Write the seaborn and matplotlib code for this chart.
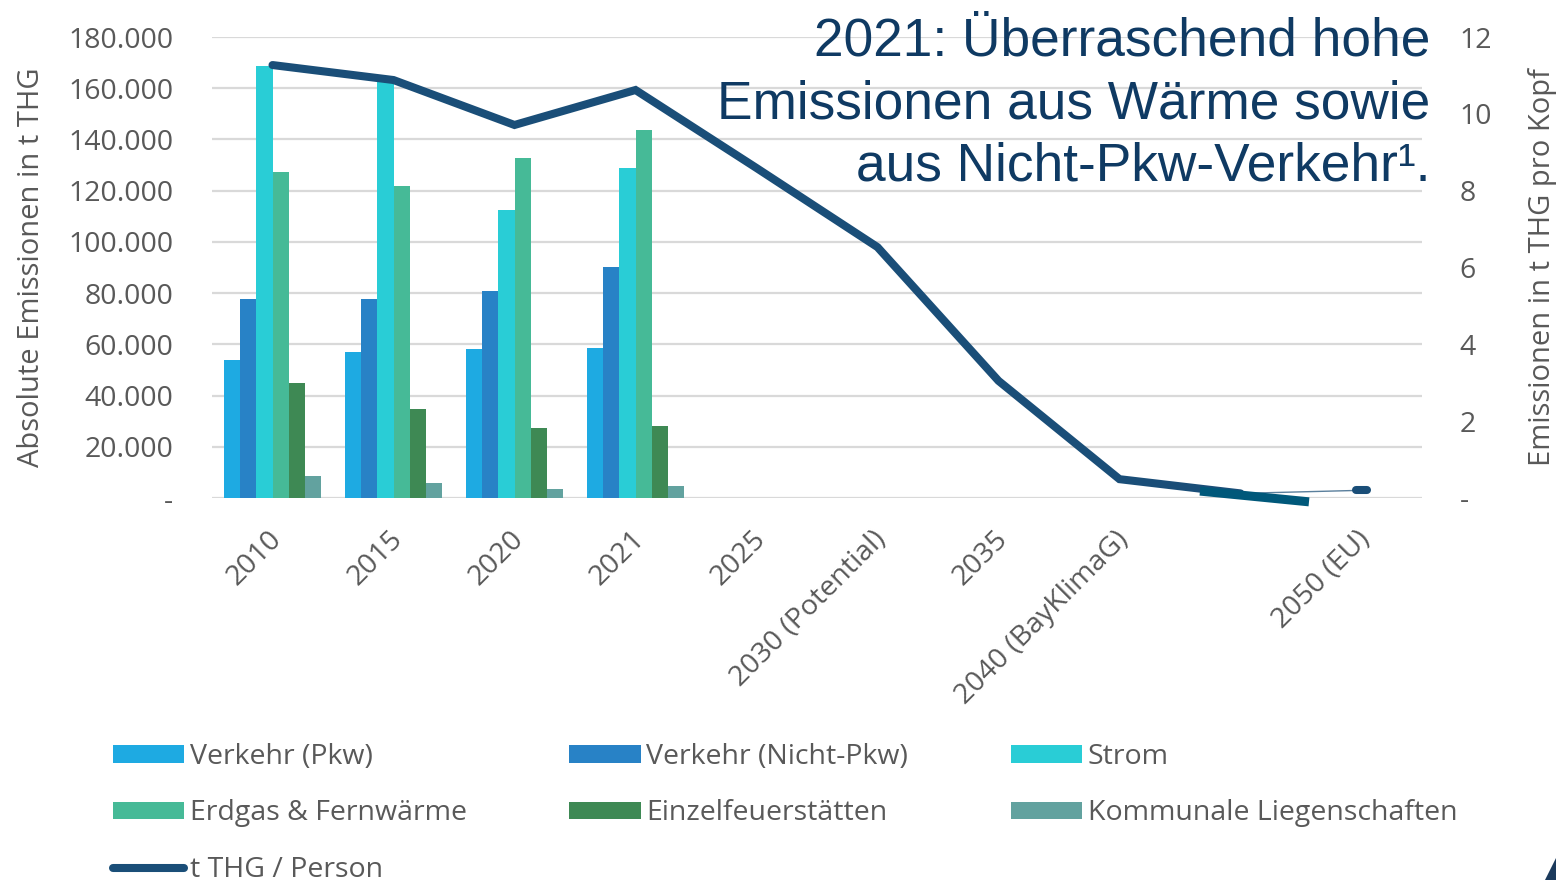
import numpy as np
import pandas as pd
import matplotlib
matplotlib.use("Agg")
import matplotlib.pyplot as plt
import matplotlib.transforms as mtransforms
from matplotlib.patches import Patch, Polygon
from matplotlib.lines import Line2D
import seaborn as sns

# ---------------- data ----------------
categories = ["2010", "2015", "2020", "2021", "2025", "2030 (Potential)",
              "2035", "2040 (BayKlimaG)", "2045", "2050 (EU)"]
tick_labels = ["2010", "2015", "2020", "2021", "2025", "2030 (Potential)",
               "2035", "2040 (BayKlimaG)", "", "2050 (EU)"]
bar_years = ["2010", "2015", "2020", "2021"]
series = ["Verkehr (Pkw)", "Verkehr (Nicht-Pkw)", "Strom",
          "Erdgas & Fernwärme", "Einzelfeuerstätten", "Kommunale Liegenschaften"]
verkehr_pkw = [54000, 56900, 58100, 58400]
verkehr_nicht_pkw = [77600, 77600, 81000, 90100]
strom = [168700, 164500, 112500, 128900]
erdgas_fernwaerme = [127400, 122000, 132900, 143800]
einzelfeuerstaetten = [44800, 34900, 27300, 28200]
kommunale = [8700, 5700, 3600, 4500]
per_capita = [11.27, 10.88, 9.71, 10.62, 8.59, 6.53, 3.05, 0.49, 0.12, 0.20]
overlay_x = [7.665, 8.566]
overlay_y = [0.18, -0.10]
colors = ["#1EAAE2", "#2882C6", "#29CDD6", "#46BA97", "#3E8954", "#62A29F"]
line_color = "#1A4E78"
overlay_color = "#00587A"
left_ticks = [0, 20000, 40000, 60000, 80000, 100000, 120000, 140000, 160000, 180000]
left_ticklabels = ["-", "20.000", "40.000", "60.000", "80.000", "100.000",
                   "120.000", "140.000", "160.000", "180.000"]
right_ticks = [0, 2, 4, 6, 8, 10, 12]
right_ticklabels = ["-", "2", "4", "6", "8", "10", "12"]
title = "2021: Überraschend hohe\nEmissionen aus Wärme sowie\naus Nicht-Pkw-Verkehr¹."

values = [verkehr_pkw, verkehr_nicht_pkw, strom, erdgas_fernwaerme,
          einzelfeuerstaetten, kommunale]
rows = []
for s, vals in zip(series, values):
    for yr, v in zip(bar_years, vals):
        rows.append({"Jahr": yr, "Sektor": s, "Wert": v})
df = pd.DataFrame(rows)

# ---------------- style ----------------
sns.set_theme(style="white")
plt.rcParams["font.family"] = ["Open Sans", "DejaVu Sans"]
gray = "#595959"
fs = 20.5

fig = plt.figure(figsize=(15.56, 8.8), dpi=100)
ax = fig.add_axes([212 / 1556, 1 - 498 / 880, 1210 / 1556, 461 / 880])

sns.barplot(data=df, x="Jahr", y="Wert", hue="Sektor", order=categories,
            hue_order=series, palette=colors, saturation=1, errorbar=None,
            width=0.8, linewidth=0, legend=False, ax=ax, zorder=2)

ax.set_xlim(-0.5, len(categories) - 0.5)
ax.set_ylim(0, 180000)
ax.set_yticks(left_ticks)
ax.set_yticklabels(left_ticklabels)
ax.yaxis.grid(True, color="#D9D9D9", linewidth=1.6, zorder=0)
ax.set_axisbelow(True)
for sp in ax.spines.values():
    sp.set_visible(False)
ax.tick_params(axis="y", length=0, pad=28, labelsize=fs, labelcolor=gray)
ax.set_xticks(range(len(categories)))
ax.set_xticklabels(tick_labels, rotation=45, ha="right", va="center",
                   rotation_mode="anchor")
ax.tick_params(axis="x", length=0, pad=27, labelsize=fs, labelcolor=gray)
offset = mtransforms.ScaledTranslation(5 / 100, 0, fig.dpi_scale_trans)
for lab in ax.get_xticklabels():
    lab.set_transform(lab.get_transform() + offset)
ax.set_xlabel("")
ax.set_ylabel("Absolute Emissionen in t THG", fontsize=21, color=gray)
ax.yaxis.set_label_coords(-0.137, 0.5)

# ---------------- per-capita line ----------------
ax2 = ax.twinx()
ax2.set_ylim(0, 12)
ax2.set_yticks(right_ticks)
ax2.set_yticklabels(right_ticklabels)
ax2.tick_params(axis="y", length=0, pad=27, labelsize=fs, labelcolor=gray)
for sp in ax2.spines.values():
    sp.set_visible(False)
ax2.grid(False)
xs = np.arange(len(categories))
sns.lineplot(x=xs[:9], y=per_capita[:9], ax=ax2, color=line_color,
             linewidth=5.8, solid_capstyle="round", solid_joinstyle="miter",
             zorder=5)
sns.lineplot(x=xs[8:], y=per_capita[8:], ax=ax2, color="#5A7F9C",
             linewidth=1.0, zorder=4)
ax2.plot([xs[9] - 0.045, xs[9] + 0.045], [per_capita[9], per_capita[9]],
         color=line_color, linewidth=5.8, solid_capstyle="round", zorder=5)
ax2.plot(overlay_x, overlay_y, color=overlay_color, linewidth=6.5,
         solid_capstyle="butt", zorder=6, clip_on=False)
ax2.set_ylabel("Emissionen in t THG pro Kopf", fontsize=21, color=gray)
ax2.yaxis.set_label_coords(1.088, 0.5)
ax2.set_xlim(-0.5, len(categories) - 0.5)

# ---------------- title ----------------
fig.text(1430 / 1556, 1 - 17 / 880, title, ha="right", va="top",
         multialignment="right", fontsize=38.3, color="#0F3A63",
         family=["Liberation Sans", "DejaVu Sans"], linespacing=1.32)

# ---------------- legend ----------------
handles = [Patch(facecolor=c, edgecolor="none") for c in colors]
line_handle = Line2D([0], [0], color=line_color, linewidth=5.8,
                     solid_capstyle="round")
order_h = [handles[0], handles[3], line_handle, handles[1], handles[4],
           handles[2], handles[5]]
order_l = [series[0], series[3], "t THG / Person", series[1], series[4],
           series[2], series[5]]
leg = fig.legend(order_h, order_l, ncol=3, loc="upper left",
                 bbox_to_anchor=(113 / 1556, 1 - 743 / 880), frameon=False,
                 fontsize=fs, handlelength=2.5, handleheight=0.55,
                 handletextpad=0.2, columnspacing=3.6, labelspacing=1.0,
                 borderaxespad=0, borderpad=0)
for t in leg.get_texts():
    t.set_color(gray)

# slide decoration in corner
fig.add_artist(Polygon([[1545 / 1556, 0], [1, 22 / 880], [1, 0]],
                       closed=True, transform=fig.transFigure,
                       facecolor="#1B3A5C", edgecolor="none"))

fig.savefig("out.png", dpi=100)
